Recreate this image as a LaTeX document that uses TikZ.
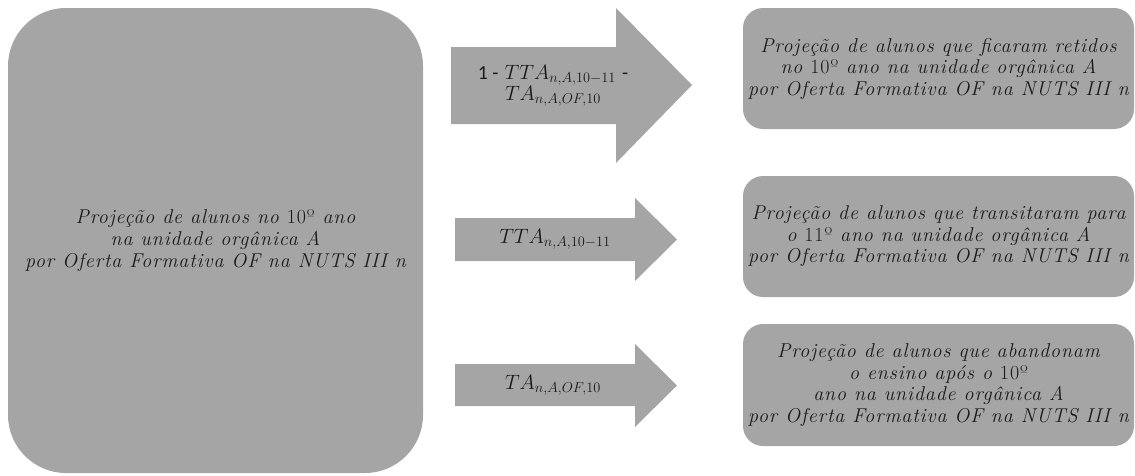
\documentclass[tikz,border=0pt]{standalone}
\usepackage{fontspec}
\setmainfont{Latin Modern Roman}
\newfontfamily\calibri{Carlito}
\newfontfamily\widefont{Latin Modern Roman}[LetterSpace=4.5]
\definecolor{boxgray}{HTML}{A5A5A5}
\definecolor{txt}{HTML}{1A1A1A}
\tikzset{
  bigbox/.style={fill=boxgray, draw=none, rounded corners=58pt, inner sep=0pt, align=center,
    text=txt, font=\widefont\fontsize{20}{22}\selectfont\itshape},
  outbox/.style={fill=boxgray, draw=none, rounded corners=20pt, inner sep=0pt, align=center,
    text=txt, minimum width=391pt, font=\widefont\fontsize{20}{21.5}\selectfont\itshape},
  arrowfill/.style={fill=boxgray, draw=none},
  arrowtext/.style={inner sep=0pt, align=center, text=txt, font=\fontsize{20}{19}\selectfont}
}
\begin{document}
\begin{tikzpicture}[x=1pt,y=-1pt]
\useasboundingbox (0,0) rectangle (1135,475);
% big source box
\node[bigbox, minimum width=415pt, minimum height=465pt] (src) at (215.5,240.5)
  {Projeção de alunos no {\upshape 10º} ano\\na unidade orgânica A\\por Oferta Formativa OF na NUTS III n};
% arrows
\fill[arrowfill] (451,47) -- (616,47) -- (616,8) -- (692,85) -- (616,163) -- (616,124) -- (451,124) -- cycle;
\fill[arrowfill] (455,218) -- (635,218) -- (635,198) -- (677,239.5) -- (635,281) -- (635,261) -- (455,261) -- cycle;
\fill[arrowfill] (455,364) -- (635,364) -- (635,344) -- (677,385.5) -- (635,427) -- (635,406) -- (455,406) -- cycle;
\node[arrowtext] (t1) at (553,86) {{\calibri 1 -} $TTA_{n,A,10-11}$ {\calibri -}\\$TA_{n,A,OF,10}$};
\node[arrowtext] (t2) at (555,239) {$TTA_{n,A,10-11}$};
\node[arrowtext] (t3) at (553,385) {$TA_{n,A,OF,10}$};
% output boxes
\node[outbox, minimum height=121pt] (o1) at (938.5,68.5)
  {Projeção de alunos que ficaram retidos\\no {\upshape 10º} ano na unidade orgânica A\\por Oferta Formativa OF na NUTS III n};
\node[outbox, minimum height=121pt] (o2) at (938.5,236.5)
  {Projeção de alunos que transitaram para\\o {\upshape 11º} ano na unidade orgânica A\\por Oferta Formativa OF na NUTS III n};
\node[outbox, minimum height=122pt] (o3) at (938.5,385)
  {Projeção de alunos que abandonam\\o ensino após o {\upshape 10º}\\ano na unidade orgânica A\\por Oferta Formativa OF na NUTS III n};
\end{tikzpicture}
\end{document}
